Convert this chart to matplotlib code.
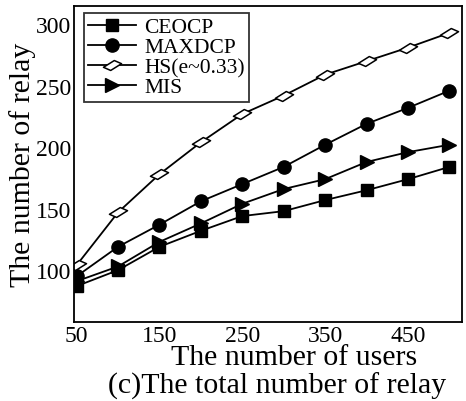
import numpy as np
import matplotlib.pyplot as plt
from matplotlib.path import Path

users = [50, 100, 150, 200, 250, 300, 350, 400, 450, 500]
ceocp = [87, 100, 119, 132, 144, 148, 157, 165, 174, 184]
maxdcp = [95, 119, 137, 156, 170, 184, 202, 219, 232, 246]
hs = [104, 147, 178, 204, 227, 242, 259, 270, 281, 293]
mis = [91, 103, 123, 138, 154, 166, 174, 188, 196, 202]

xticks = [50, 150, 250, 350, 450]
yticks = [100, 150, 200, 250, 300]

plt.rcParams['font.family'] = ['Liberation Serif', 'DejaVu Serif']

# skewed diamond like the original
skew = Path([(-1, -0.2), (0.2, 0.55), (1, 0.2), (-0.2, -0.55), (-1, -0.2)],
            [Path.MOVETO, Path.LINETO, Path.LINETO, Path.LINETO, Path.CLOSEPOLY])

fig = plt.figure(figsize=(4.66, 4.02), dpi=100)
ax = fig.add_axes([0.159, 0.197, 0.832, 0.786])

kw = dict(color='black', lw=1.3)
ax.plot(users, ceocp, marker='s', ms=8.5, label='CEOCP', **kw)
ax.plot(users, maxdcp, marker='o', ms=9.5, label='MAXDCP', **kw)
ax.plot(users, hs, marker=skew, ms=13, mfc='white', mew=1.1, label='HS(e~0.33)', **kw)
ax.plot(users, mis, marker='>', ms=10, label='MIS', **kw)

ax.set_xlim(47, 515)
ax.set_ylim(58, 315)
ax.set_xticks(xticks)
ax.set_yticks(yticks)
ax.tick_params(length=0, labelsize=17, pad=2)
for s in ax.spines.values():
    s.set_linewidth(1.3)

ax.set_ylabel('The number of relay', fontsize=21.5, labelpad=0)

leg = ax.legend(loc='upper left', bbox_to_anchor=(0.02, 0.985), fontsize=15.5,
                frameon=True, fancybox=False, edgecolor='black',
                handlelength=2.2, handletextpad=0.4, labelspacing=0.0,
                borderpad=0.2, borderaxespad=0.1)
leg.get_frame().set_linewidth(1.3)

fig.text(0.632, 0.11, 'The number of users', fontsize=21.5, ha='center', va='center')
fig.text(0.595, 0.04, '(c)The total number of relay', fontsize=21.5, ha='center', va='center')

fig.savefig('out.png', dpi=100)
